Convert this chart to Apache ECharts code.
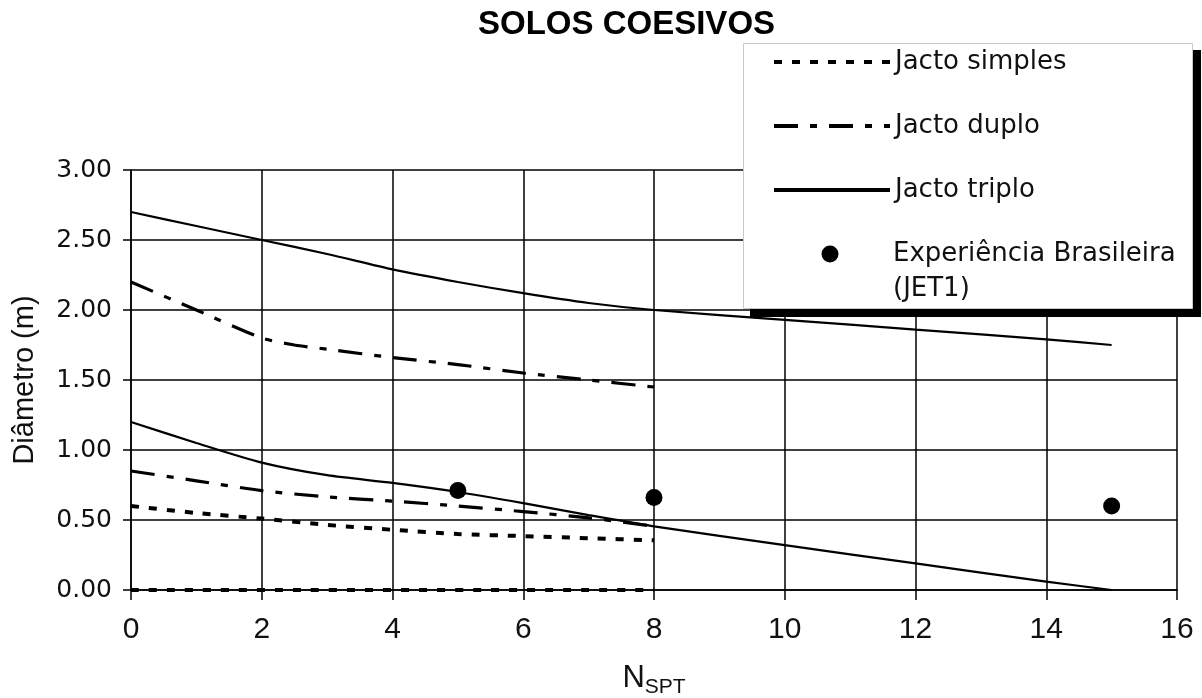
<!DOCTYPE html>
<html><head><meta charset="utf-8">
<script src="https://cdn.jsdelivr.net/npm/echarts@6/dist/echarts.min.js"></script>
<style>html,body{margin:0;padding:0;background:#fff}#c{width:1202px;height:698px}</style>
</head><body><div id="c"></div>
<script>
const chartTitle = 'SOLOS COESIVOS';
const yAxisTitle = 'Diâmetro (m)';
const xAxisMain = 'N';
const xAxisSub = 'SPT';
const seriesNames = ['Jacto simples', 'Jacto duplo', 'Jacto triplo', 'Experiência Brasileira (JET1)'];

const simplesUpperX = [0, 1, 2, 3, 4, 5, 6, 7, 8];
const simplesUpperY = [0.60, 0.55, 0.51, 0.465, 0.43, 0.40, 0.385, 0.37, 0.355];
const simplesLowerX = [0, 8];
const simplesLowerY = [0, 0];

const duploUpperX = [0, 1, 2, 2.5, 3, 4, 5, 6, 7, 8];
const duploUpperY = [2.20, 2.00, 1.80, 1.75, 1.72, 1.66, 1.61, 1.55, 1.50, 1.45];
const duploLowerX = [0, 1, 2, 3, 4, 5, 6, 7, 8];
const duploLowerY = [0.85, 0.78, 0.71, 0.665, 0.635, 0.60, 0.56, 0.515, 0.455];

const triploUpperX = [0, 1, 2, 3, 4, 5, 6, 7, 8, 10, 12, 14, 15];
const triploUpperY = [2.70, 2.60, 2.50, 2.40, 2.29, 2.20, 2.12, 2.05, 2.00, 1.93, 1.86, 1.79, 1.75];
const triploLowerX = [0, 1, 2, 3, 4, 5, 6, 7, 8, 10, 12, 14, 15];
const triploLowerY = [1.20, 1.05, 0.91, 0.82, 0.765, 0.70, 0.62, 0.535, 0.455, 0.32, 0.19, 0.06, 0.00];

const jetX = [5, 8, 15];
const jetY = [0.71, 0.66, 0.60];

const pairs = (xs, ys) => xs.map((x, i) => [x, ys[i]]);

const simplesLine = { color: '#000', width: 4, type: [8, 10] };
const duploLine = { color: '#000', width: 3.2, type: [24, 12, 7, 12] };
const triploLine = { color: '#000', width: 2.2, type: 'solid' };

function lineSeries(name, data, style) {
  return {
    name: name, type: 'line', data: data, symbol: 'none', smooth: 0.25,
    lineStyle: style, itemStyle: { color: '#000' }, z: 2
  };
}

const legendText = { fontFamily: 'DejaVu Sans', fontSize: 26, color: '#111', lineHeight: 35 };

const chart = echarts.init(document.getElementById('c'), null, { renderer: 'canvas' });
chart.setOption({
  animation: false,
  backgroundColor: '#fff',
  title: {
    text: chartTitle, left: 478, top: 8, padding: 0,
    textStyle: { fontFamily: 'Liberation Sans', fontWeight: 'bold', fontSize: 33, color: '#000' }
  },
  grid: { left: 131, right: 25, top: 170, bottom: 108, containLabel: false, outerBoundsMode: 'none' },
  xAxis: {
    type: 'value', min: 0, max: 16, interval: 2,
    axisLine: { show: true, onZero: false, lineStyle: { color: '#000', width: 1.5 } },
    axisTick: { show: true, length: 10, lineStyle: { color: '#000', width: 1.5 } },
    axisLabel: { margin: 25, fontFamily: 'Liberation Sans', fontSize: 30, color: '#111' },
    splitLine: { show: true, lineStyle: { color: '#000', width: 1.5 } },
    name: '{n|' + xAxisMain + '}{s|' + xAxisSub + '}',
    nameLocation: 'middle', nameGap: 68.5,
    nameTextStyle: {
      rich: {
        n: { fontFamily: 'Liberation Sans', fontSize: 31, lineHeight: 40, color: '#111' },
        s: { fontFamily: 'Liberation Sans', fontSize: 21, color: '#111', padding: [18, 0, 0, 0] }
      }
    }
  },
  yAxis: {
    type: 'value', min: 0, max: 3, interval: 0.5,
    axisLine: { show: true, lineStyle: { color: '#000', width: 1.5 } },
    axisTick: { show: true, length: 8, lineStyle: { color: '#000', width: 1.5 } },
    axisLabel: { margin: 19, fontFamily: 'DejaVu Sans', fontSize: 25, color: '#111',
      formatter: v => v.toFixed(2) },
    splitLine: { show: true, lineStyle: { color: '#000', width: 1.5 } },
    name: yAxisTitle, nameLocation: 'middle', nameGap: 92,
    nameTextStyle: { fontFamily: 'Liberation Sans', fontSize: 29, color: '#111' }
  },
  legend: [
    {
      data: seriesNames.slice(0, 3), orient: 'vertical', left: 772, top: 44.5, padding: 0,
      itemWidth: 116, itemHeight: 17, itemGap: 29, selectedMode: false, z: 6,
      itemStyle: { color: 'transparent', borderColor: 'transparent', borderWidth: 0 },
      lineStyle: { width: 4 },
      textStyle: legendText
    },
    {
      data: [seriesNames[3]], orient: 'vertical', left: 821.5, top: 201.5, padding: 0,
      itemWidth: 116, itemHeight: 17, selectedMode: false, z: 6,
      itemStyle: { color: '#000', opacity: 1 },
      formatter: n => '\n' + n.replace(' (', '\n('),
      textStyle: legendText
    }
  ],
  graphic: [
    { type: 'rect', z: 5, z2: 0, silent: true, shape: { x: 750, y: 50, width: 451, height: 267 }, style: { fill: '#000' } },
    { type: 'rect', z: 5, z2: 1, silent: true, shape: { x: 743.5, y: 43.5, width: 449, height: 265 }, style: { fill: '#fff', stroke: '#c8c8c8', lineWidth: 1 } }
  ],
  series: [
    lineSeries(seriesNames[0], pairs(simplesUpperX, simplesUpperY), simplesLine),
    lineSeries(seriesNames[0], pairs(simplesLowerX, simplesLowerY), simplesLine),
    lineSeries(seriesNames[1], pairs(duploUpperX, duploUpperY), duploLine),
    lineSeries(seriesNames[1], pairs(duploLowerX, duploLowerY), duploLine),
    lineSeries(seriesNames[2], pairs(triploUpperX, triploUpperY), triploLine),
    lineSeries(seriesNames[2], pairs(triploLowerX, triploLowerY), triploLine),
    {
      name: seriesNames[3], type: 'scatter', data: pairs(jetX, jetY),
      symbol: 'circle', symbolSize: 17, itemStyle: { color: '#000', opacity: 1 }, z: 3
    }
  ]
});
</script>
</body></html>
